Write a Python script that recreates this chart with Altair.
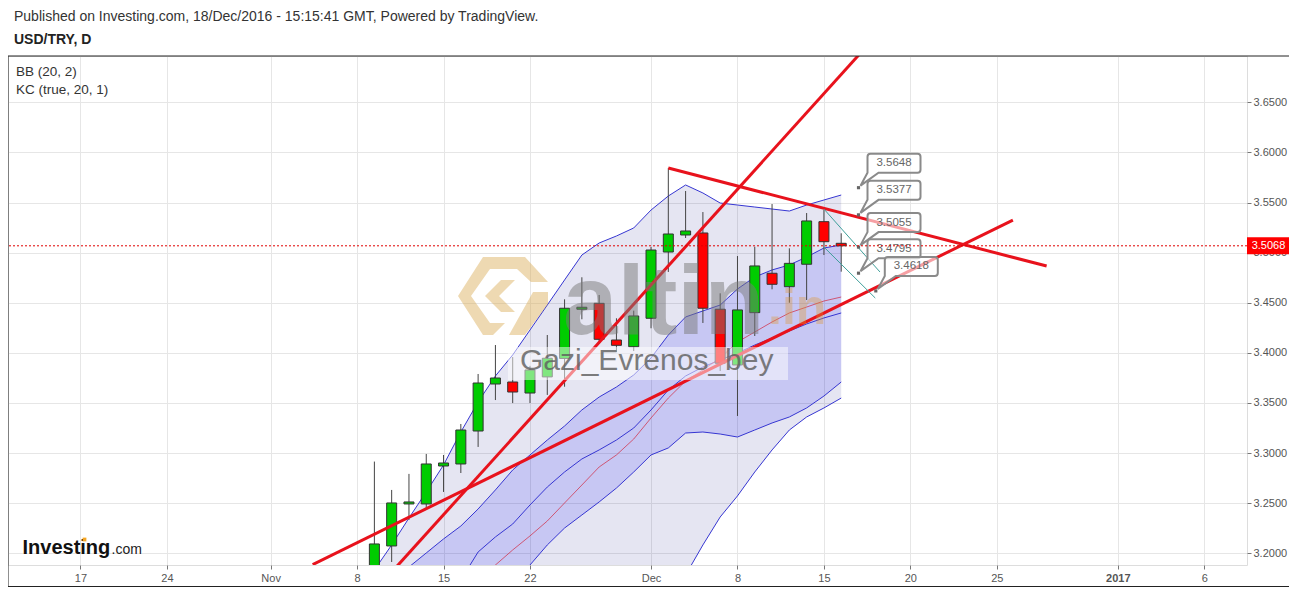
import altair as alt
import pandas as pd

FONT = "Liberation Sans"
W, H = 1239, 509

# ---------------- data (bar index: 0 = 17 Oct 2016, one per trading day) ----------------
candle_idx = [17, 18, 19, 20, 21, 22, 23, 24, 25, 26, 27, 28, 29, 30, 31, 32, 33, 34, 35, 36, 37, 38, 39, 40, 41, 42, 43, 44]
candle_open = [3.1800, 3.2073, 3.2492, 3.2492, 3.2871, 3.2891, 3.3220, 3.3689, 3.3709, 3.3599, 3.3760, 3.3944, 3.4435, 3.4494,
               3.4128, 3.4061, 3.4345, 3.5006, 3.5176, 3.5196, 3.4435, 3.3879, 3.4401, 3.4794, 3.4660, 3.4884, 3.5309, 3.5093]
candle_high = [3.2915, 3.2632, 3.2792, 3.2991, 3.2981, 3.3290, 3.3789, 3.4078, 3.3958, 3.3870, 3.4178, 3.4534, 3.4754, 3.4577,
               3.4345, 3.4421, 3.5056, 3.5844, 3.5615, 3.5405, 3.4594, 3.4966, 3.5059, 3.5485, 3.5043, 3.5395, 3.5425, 3.5193]
candle_low = [3.1750, 3.1913, 3.2333, 3.2432, 3.2612, 3.2801, 3.3061, 3.3529, 3.3499, 3.3499, 3.3580, 3.3662, 3.4335, 3.4093,
              3.4008, 3.4018, 3.4245, 3.4807, 3.5146, 3.4298, 3.3819, 3.3370, 3.4168, 3.4634, 3.4500, 3.4527, 3.4976, 3.4810]
candle_close = [3.2093, 3.2502, 3.2512, 3.2891, 3.2901, 3.3230, 3.3699, 3.3749, 3.3609, 3.3829, 3.3946, 3.4445, 3.4455, 3.4135,
                3.4075, 3.4368, 3.5026, 3.5186, 3.5216, 3.4445, 3.3896, 3.4428, 3.4867, 3.4684, 3.4893, 3.5316, 3.5109, 3.5068]

# Bollinger Bands (20, 2)
bb_idx = [17, 18, 19, 20, 21, 22, 23, 24, 25, 26, 27, 28, 29, 30, 31, 32, 33, 34, 35, 36, 37, 38, 39, 40, 41, 42, 43, 44]
bb_upper = [3.1833, 3.2083, 3.2352, 3.2612, 3.2881, 3.3210, 3.3510, 3.3769, 3.3979, 3.4228, 3.4477, 3.4727, 3.4976, 3.5096,
            3.5166, 3.5246, 3.5425, 3.5565, 3.5675, 3.5595, 3.5495, 3.5475, 3.5455, 3.5435, 3.5415, 3.5475, 3.5525, 3.5575]
bb_lower = [2.960, 2.975, 2.990, 3.000, 3.010, 3.020, 3.030, 3.045, 3.060, 3.075, 3.085, 3.095, 3.105, 3.115,
            3.125, 3.135, 3.145, 3.160, 3.1783, 3.2083, 3.2362, 3.2572, 3.2811, 3.3031, 3.3230, 3.3360, 3.3450, 3.3549]
bb_basis_idx = [23, 24, 25, 26, 27, 28, 29, 30, 31, 32, 33, 34, 35, 36, 37, 38, 39, 40, 41, 42, 43, 44]
bb_basis = [3.1720, 3.1883, 3.2033, 3.2173, 3.2322, 3.2502, 3.2681, 3.2861, 3.2981, 3.3140, 3.3350, 3.3549, 3.3719,
            3.3829, 3.3949, 3.4108, 3.4208, 3.4308, 3.4398, 3.4457, 3.4517, 3.4557]

# Keltner Channels (true, 20, 1)
kc_idx = [19, 20, 21, 22, 23, 24, 25, 26, 27, 28, 29, 30, 31, 32, 33, 34, 35, 36, 37, 38, 39, 40, 41, 42, 43, 44]
kc_upper = [3.1863, 3.2003, 3.2143, 3.2272, 3.2442, 3.2632, 3.2831, 3.2981, 3.3130, 3.3270, 3.3430, 3.3559, 3.3659,
            3.3779, 3.3949, 3.4178, 3.4358, 3.4418, 3.4477, 3.4637, 3.4757, 3.4827, 3.4877, 3.4956, 3.5046, 3.5076]
kc_lower = [3.090, 3.100, 3.110, 3.120, 3.135, 3.150, 3.168, 3.1883, 3.2083, 3.2252, 3.2382, 3.2512, 3.2651,
            3.2811, 3.2981, 3.3051, 3.3200, 3.3210, 3.3190, 3.3160, 3.3230, 3.3300, 3.3360, 3.3450, 3.3569, 3.3709]
kc_basis_idx = [22, 23, 24, 25, 26, 27, 28, 29, 30, 31, 32, 33, 34, 35, 36, 37, 38, 39, 40, 41, 42, 43, 44]
kc_basis = [3.1734, 3.2013, 3.2163, 3.2292, 3.2482, 3.2661, 3.2811, 3.2941, 3.3031, 3.3130, 3.3250, 3.3430, 3.3629,
            3.3769, 3.3859, 3.3929, 3.3998, 3.4078, 3.4148, 3.4218, 3.4288, 3.4348, 3.4398]

# hand-drawn trend lines (start / end anchors)
trend_name = ["a", "a", "b", "b", "c", "c"]
trend_idx = [18.0, 45.0, 13.43, 53.93, 34.0, 55.88]
trend_price = [3.1812, 3.6969, 3.1887, 3.5325, 3.5844, 3.4866]

teal_name = ["t1", "t1", "t2", "t2"]
teal_idx = [43.0, 46.24, 43.0, 45.97]
teal_price = [3.5435, 3.4807, 3.5056, 3.4547]

# price labels
label_idx = [45, 45, 45, 45, 46]
label_price = [3.5648, 3.5377, 3.5055, 3.4795, 3.4618]

last_price = [3.5068]

x_tick_idx = [0, 5, 11, 16, 21, 26, 33, 38, 43, 48, 53, 60, 65]
x_tick_labels = ["17", "24", "Nov", "8", "15", "22", "Dec", "8", "15", "20", "25", "2017", "6"]
y_ticks = [3.20, 3.25, 3.30, 3.35, 3.40, 3.45, 3.50, 3.55, 3.60, 3.65]

# ---------------- scales / axes ----------------
x_scale = alt.Scale(domain=[-3.901, 67.18], nice=False, zero=False)
y_scale = alt.Scale(domain=[3.1883, 3.6962], nice=False, zero=False)

label_expr = ("[" + ",".join(f"'{t}'" for t in x_tick_labels) + "][indexof(["
              + ",".join(str(v) for v in x_tick_idx) + "], datum.value)]")

x_axis = alt.Axis(values=x_tick_idx, labelExpr=label_expr, title=None, grid=True, gridColor="#e6e6e6",
                  domain=False, tickSize=4, tickColor="#777", labelColor="#555", labelFont=FONT,
                  labelFontSize=11, labelPadding=3, labelOverlap=False, labelFlush=False,
                  labelFontWeight=alt.ExprRef(expr="datum.value == 60 ? 'bold' : 'normal'"))
y_axis = alt.Axis(orient="right", values=y_ticks, format=".4f", title=None, grid=True, gridColor="#e6e6e6",
                  domain=False, tickSize=4, tickColor="#777", labelColor="#555", labelFont=FONT,
                  labelFontSize=11, labelPadding=2, labelOverlap=False, labelFlush=False)


def X(f):
    return alt.X(f, type="quantitative", scale=x_scale, axis=x_axis)


def Y(f):
    return alt.Y(f, type="quantitative", scale=y_scale, axis=y_axis)


one = pd.DataFrame({"k": [0]})

candles = pd.DataFrame({"i": candle_idx, "o": candle_open, "h": candle_high, "l": candle_low, "c": candle_close})
bb = pd.DataFrame({"i": bb_idx, "up": bb_upper, "lo": bb_lower})
bbm = pd.DataFrame({"i": bb_basis_idx, "m": bb_basis})
kc = pd.DataFrame({"i": kc_idx, "up": kc_upper, "lo": kc_lower})
kcm = pd.DataFrame({"i": kc_basis_idx, "m": kc_basis})
trends = pd.DataFrame({"g": trend_name, "i": trend_idx, "p": trend_price})
teals = pd.DataFrame({"g": teal_name, "i": teal_idx, "p": teal_price})
labels = pd.DataFrame({"i": label_idx, "p": label_price, "t": [f"{v:.4f}" for v in label_price]})
last = pd.DataFrame({"p": last_price, "t": [f"{v:.4f}" for v in last_price]})

BLUE = "#3636d2"

bb_fill = alt.Chart(bb).mark_area(color="#000080", opacity=0.10, clip=True).encode(x=X("i"), y=Y("up"), y2="lo")
kc_fill = alt.Chart(kc).mark_area(color="#0000ff", opacity=0.13, clip=True).encode(x=X("i"), y=Y("up"), y2="lo")
bb_up_line = alt.Chart(bb).mark_line(color=BLUE, strokeWidth=1, clip=True).encode(x=X("i"), y=Y("up"))
bb_lo_line = alt.Chart(bb).mark_line(color=BLUE, strokeWidth=1, clip=True).encode(x=X("i"), y=Y("lo"))
kc_up_line = alt.Chart(kc).mark_line(color=BLUE, strokeWidth=1, clip=True).encode(x=X("i"), y=Y("up"))
kc_lo_line = alt.Chart(kc).mark_line(color=BLUE, strokeWidth=1, clip=True).encode(x=X("i"), y=Y("lo"))
kc_mid_line = alt.Chart(kcm).mark_line(color=BLUE, strokeWidth=1, clip=True).encode(x=X("i"), y=Y("m"))
bb_mid_line = alt.Chart(bbm).mark_line(color="#d0304a", strokeWidth=1, opacity=0.75, clip=True).encode(x=X("i"), y=Y("m"))

wicks = alt.Chart(candles).mark_rule(color="#444", strokeWidth=1, clip=True).encode(x=X("i"), y=Y("l"), y2="h")
bodies = alt.Chart(candles).mark_bar(size=10, stroke="#333", strokeWidth=1, clip=True).encode(
    x=X("i"), y=Y("o"), y2="c",
    color=alt.condition("datum.c >= datum.o", alt.value("#00cc00"), alt.value("#ff0000")))

trend_lines = alt.Chart(trends).mark_line(color="#e8121c", strokeWidth=3, clip=True).encode(
    x=X("i"), y=Y("p"), detail="g:N")
teal_lines = alt.Chart(teals).mark_line(color="#3f9f9a", strokeWidth=1, clip=True).encode(
    x=X("i"), y=Y("p"), detail="g:N")

# watermarks
logo_path = ("M -20 -39 L 22 -39 L 45 -14 L 28 -14 L 14 -27 L -13 -27 L -32 0 L -13 27 L 2 27 L -10 39 L -20 39 L -45 0 Z "
             "M -2 -16 L 12 -16 L -4 0 L 12 16 L -2 16 L -18 0 Z "
             "M 30 -4 L 45 -4 L 45 8 L 22 39 L 6 39 Z")
wm_logo = alt.Chart(one).mark_point(shape=logo_path, size=4, filled=True, color="#d9aa55", opacity=0.45).encode(
    x=alt.value(495), y=alt.value(240))
wm_altin = alt.Chart(one).mark_text(text="altin", font=FONT, fontSize=98, fontWeight="bold", color="#7a7a7a",
                                    opacity=0.5, align="left", baseline="alphabetic").encode(
    x=alt.value(555), y=alt.value(278))
wm_in = alt.Chart(one).mark_text(text=".in", font=FONT, fontSize=50, fontWeight="bold", color="#e0962c",
                                 opacity=0.35, align="left", baseline="alphabetic").encode(
    x=alt.value(760), y=alt.value(268))
wm_box = alt.Chart(one).mark_rect(color="white", opacity=0.5).encode(
    x=alt.value(500), x2=alt.value(780), y=alt.value(291), y2=alt.value(324))
wm_name = alt.Chart(one).mark_text(text="Gazi_Evrenos_bey", font=FONT, fontSize=30, color="#5e5e5e",
                                   opacity=0.8, align="left", baseline="alphabetic").encode(
    x=alt.value(512), y=alt.value(314))

# price labels
callout = ("M 2 -2 L 9 -15 L 9 -31 Q 9 -34 12 -34 L 59 -34 Q 62 -34 62 -31 L 62 -18 "
           "Q 62 -15 59 -15 L 20 -15 Z")
lbl_box = alt.Chart(labels).mark_point(shape=callout, size=4, fill="white", fillOpacity=0.6, stroke="#8a8a8a",
                                       strokeWidth=2, opacity=1).encode(x=X("i"), y=Y("p"))
lbl_dot = alt.Chart(labels).mark_square(size=10, color="#666", opacity=1).encode(x=X("i"), y=Y("p"))
lbl_txt = alt.Chart(labels).mark_text(font=FONT, fontSize=11.5, color="#666", dx=35.5, dy=-24.5,
                                      align="center", baseline="middle").encode(x=X("i"), y=Y("p"), text="t:N")

# last price
last_rule = alt.Chart(last).mark_rule(color="#e00000", strokeWidth=1, strokeDash=[2, 2]).encode(y=Y("p"))
tag_path = "M 0 -8.5 L 43 -8.5 L 43 8.5 L 0 8.5 Z"
last_tag = alt.Chart(last).mark_point(shape=tag_path, size=4, filled=True, color="#ff0000", opacity=1).encode(
    x=alt.value(W), y=Y("p"))
last_txt = alt.Chart(last).mark_text(font=FONT, fontSize=11, color="white", align="center",
                                     baseline="middle").encode(x=alt.value(W + 21.5), y=Y("p"), text="t:N")

# header / legend / logo texts
hdr1 = alt.Chart(one).mark_text(text="Published on Investing.com, 18/Dec/2016 - 15:15:41 GMT, Powered by TradingView.",
                                font=FONT, fontSize=14, color="#333", align="left", baseline="middle").encode(
    x=alt.value(6), y=alt.value(-39))
hdr2 = alt.Chart(one).mark_text(text="USD/TRY, D", font=FONT, fontSize=14, fontWeight="bold", color="#222",
                                align="left", baseline="middle").encode(x=alt.value(6), y=alt.value(-16))
leg1 = alt.Chart(one).mark_text(text="BB (20, 2)", font=FONT, fontSize=13.5, color="#333", align="left",
                                baseline="middle").encode(x=alt.value(8), y=alt.value(16))
leg2 = alt.Chart(one).mark_text(text="KC (true, 20, 1)", font=FONT, fontSize=13.5, color="#333", align="left",
                                baseline="middle").encode(x=alt.value(8), y=alt.value(34))
inv1 = alt.Chart(one).mark_text(text="Investing", font=FONT, fontSize=20, fontWeight="bold", color="#111",
                                align="left", baseline="alphabetic").encode(x=alt.value(14.5), y=alt.value(498))
inv2 = alt.Chart(one).mark_text(text=".com", font=FONT, fontSize=14, color="#222", align="left",
                                baseline="alphabetic").encode(x=alt.value(103.5), y=alt.value(498))
inv_dot = alt.Chart(one).mark_square(size=14, color="#f5a623", opacity=1).encode(x=alt.value(76.5), y=alt.value(483.5))

frame = alt.Chart(one).mark_rect(fillOpacity=0, stroke="#222", strokeWidth=1).encode(
    x=alt.value(0), x2=alt.value(W + 43), y=alt.value(0), y2=alt.value(H + 21.5))

chart = alt.layer(
    bb_fill, kc_fill, bb_up_line, bb_lo_line, kc_up_line, kc_lo_line, kc_mid_line, bb_mid_line,
    wicks, bodies, trend_lines, wm_logo, wm_altin, wm_in, wm_box, wm_name,
    teal_lines, lbl_box, lbl_dot, lbl_txt, last_rule, last_tag, last_txt,
    hdr1, hdr2, leg1, leg2, inv1, inv2, inv_dot, frame
).properties(
    width=W, height=H,
    padding={"left": 0, "top": 48, "right": 42, "bottom": 22},
    autosize=alt.AutoSizeParams(type="none"),
).configure_view(stroke="#222", strokeWidth=1).configure(font=FONT)

chart.save("out.html", embed_options={"renderer": "svg", "actions": False})
